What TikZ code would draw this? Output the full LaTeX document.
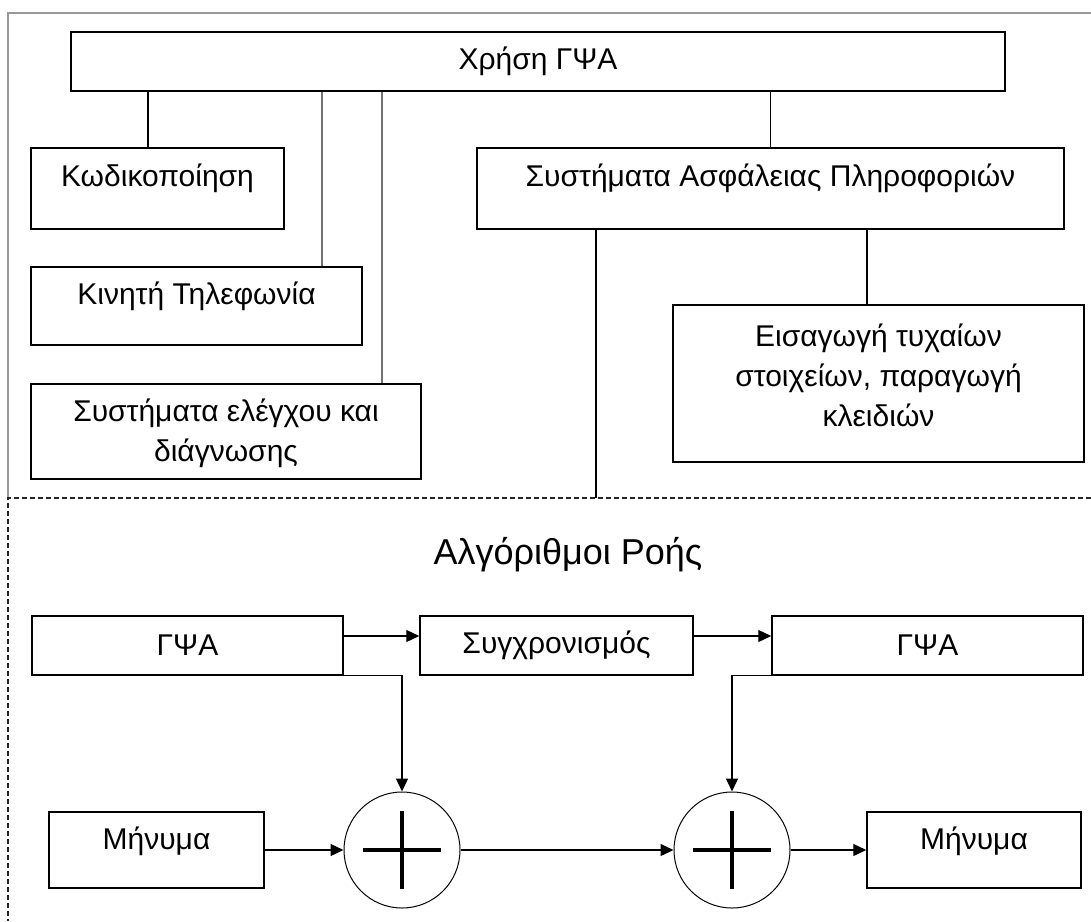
\documentclass[tikz,border=0pt]{standalone}
\usepackage{fontspec}
\setmainfont{Liberation Sans}
\usetikzlibrary{arrows.meta}

\definecolor{framegray}{gray}{0.6}
\definecolor{linkgray}{gray}{0.45}

\tikzset{
  box/.style = {draw, line width=1.5pt, inner sep=0pt},
  txt/.style = {font=\fontsize{30}{40}\selectfont, align=center, inner sep=0pt},
  link/.style = {line width=1.3pt},
  flow/.style = {line width=1.3pt, -{Triangle[length=13pt, width=12pt]}},
  adder/.style = {circle, draw, line width=1pt, minimum size=116pt, inner sep=0pt,
    path picture = {
      \draw[line width=4.5pt] ([xshift=-39pt]path picture bounding box.center) -- ([xshift=39pt]path picture bounding box.center);
      \draw[line width=4.5pt] ([yshift=-39pt]path picture bounding box.center) -- ([yshift=39pt]path picture bounding box.center);
    }},
}

\begin{document}
\begin{tikzpicture}[x=1pt, y=-1pt]
  \useasboundingbox (0,0) rectangle (1091,921);

  % frame
  \draw[framegray, line width=1.5pt] (8,498) -- (8,13) -- (1091,13);
  \draw[black!85, line width=1.1pt, dash pattern=on 5pt off 3pt] (1091,498) -- (8,498) -- (8,921);

  % uses
  \begin{scope}
    \node[box, minimum width=934pt, minimum height=59pt] (use) at (538,61.5) {};
    \node[txt] (usetxt) at (use.center) {Χρήση ΓΨΑ};

    \node[box, minimum width=253pt, minimum height=81pt] (kod) at (157.5,188.5) {};
    \node[txt, yshift=10pt] (kodtxt) at (kod.center) {Κωδικοποίηση};

    \node[box, minimum width=331pt, minimum height=78pt] (kin) at (196.5,306) {};
    \node[txt, yshift=10pt] (kintxt) at (kin.center) {Κινητή Τηλεφωνία};

    \node[box, minimum width=390pt, minimum height=95pt] (ele) at (226,431.5) {};
    \node[txt, yshift=-2pt] (eletxt) at (ele.center) {Συστήματα ελέγχου και\\ διάγνωσης};

    \node[box, minimum width=587pt, minimum height=81pt] (sap) at (770.5,188.5) {};
    \node[txt, yshift=10pt] (saptxt) at (sap.center) {Συστήματα Ασφάλειας Πληροφοριών};

    \node[box, minimum width=411pt, minimum height=157pt] (eis) at (878.5,383.5) {};
    \node[txt, yshift=8pt] (eistxt) at (eis.center) {Εισαγωγή τυχαίων\\ στοιχείων, παραγωγή\\ κλειδιών};
  \end{scope}

  \begin{scope}
    \coordinate (tkod) at (148,0);
    \coordinate (tkin) at (322,0);
    \coordinate (tele) at (382,0);
    \coordinate (teis) at (867,0);
    \coordinate (flowend) at (596,498);

    \draw[link] (use.south -| tkod) -- (kod.north -| tkod);
    \draw[link, linkgray] (use.south -| tkin) -- (kin.north -| tkin);
    \draw[link, linkgray] (use.south -| tele) -- (ele.north -| tele);
    \draw[link] (use.south -| sap.north) -- (sap.north);
    \draw[link] (sap.south -| teis) -- (eis.north -| teis);
    \draw[link] (sap.south -| flowend) -- (flowend);
  \end{scope}

  % flow algorithms
  \node[txt, font=\fontsize{36}{40}\selectfont] (flowtitle) at (568,555) {Αλγόριθμοι Ροής};

  \begin{scope}
    \node[box, txt, minimum width=311pt, minimum height=59pt] (g1) at (187.5,645.5) {ΓΨΑ};
    \node[box, txt, minimum width=273pt, minimum height=59pt] (syn) at (556.5,645.5) {Συγχρονισμός};
    \node[box, txt, minimum width=311pt, minimum height=59pt] (g2) at (927.5,645.5) {ΓΨΑ};

    \node[box, minimum width=215pt, minimum height=76pt] (m1) at (156.5,850) {};
    \node[txt, yshift=9pt] (m1txt) at (m1.center) {Μήνυμα};
    \node[box, minimum width=214pt, minimum height=76pt] (m2) at (974,850) {};
    \node[txt, yshift=9pt] (m2txt) at (m2.center) {Μήνυμα};

    \node[adder] (c1) at (402,850) {};
    \node[adder] (c2) at (732,850) {};
  \end{scope}

  \begin{scope}[flow]
    \coordinate (row) at (0,636);
    \draw (g1.east |- row) -- (syn.west |- row);
    \draw (syn.east |- row) -- (g2.west |- row);
    \draw (g1.south east) -| (c1.north);
    \draw (g2.south west) -| (c2.north);
    \draw (m1) -- (c1);
    \draw (c1) -- (c2);
    \draw (c2) -- (m2);
  \end{scope}
\end{tikzpicture}
\end{document}
